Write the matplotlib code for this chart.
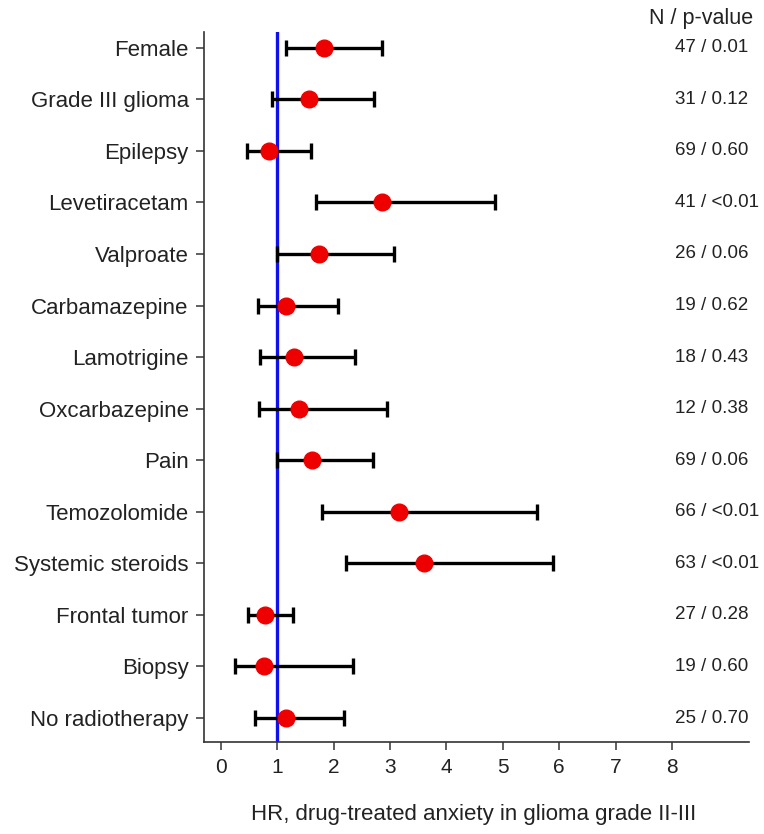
import numpy as np
import matplotlib
matplotlib.use('Agg')
import matplotlib.pyplot as plt

plt.rcParams['font.family'] = ['Liberation Sans', 'DejaVu Sans']

# ---- data ----
labels = ['Female', 'Grade III glioma', 'Epilepsy', 'Levetiracetam', 'Valproate',
          'Carbamazepine', 'Lamotrigine', 'Oxcarbazepine', 'Pain', 'Temozolomide',
          'Systemic steroids', 'Frontal tumor', 'Biopsy', 'No radiotherapy']
hr = [1.82, 1.56, 0.85, 2.85, 1.74, 1.15, 1.29, 1.38, 1.61, 3.16, 3.60, 0.79, 0.76, 1.15]
ci_low = [1.16, 0.90, 0.46, 1.68, 1.00, 0.66, 0.69, 0.67, 0.99, 1.79, 2.22, 0.48, 0.25, 0.61]
ci_high = [2.86, 2.71, 1.60, 4.86, 3.07, 2.07, 2.38, 2.94, 2.70, 5.60, 5.89, 1.28, 2.34, 2.18]
n_p = ['47 / 0.01', '31 / 0.12', '69 / 0.60', '41 / <0.01', '26 / 0.06', '19 / 0.62',
       '18 / 0.43', '12 / 0.38', '69 / 0.06', '66 / <0.01', '63 / <0.01', '27 / 0.28',
       '19 / 0.60', '25 / 0.70']

hr = np.array(hr)
ci_low = np.array(ci_low)
ci_high = np.array(ci_high)
ypos = np.arange(1, len(labels) + 1)

fig = plt.figure(figsize=(7.64, 8.34), dpi=100)
ax = fig.add_axes([0.267, 0.110, 0.713, 0.852])

# reference line at HR = 1
ax.axvline(1, color='#1010ee', lw=2.4, zorder=1)

ax.errorbar(hr, ypos, xerr=[hr - ci_low, ci_high - hr], fmt='none',
            ecolor='black', elinewidth=2.4, capsize=5.5, capthick=2.4, zorder=2)
ax.plot(hr, ypos, 'o', color='#ee0000', ms=12, zorder=3)

ax.set_ylim(len(labels) + 0.47, 0.69)
ax.set_xlim(-0.30, 9.36)
ax.set_yticks(ypos)
ax.set_yticklabels(labels, fontsize=16, color='#222222')
ax.set_xticks(range(0, 9))
ax.tick_params(axis='x', labelsize=15, labelcolor='#222222', length=6, width=1.2,
               color='#444444', pad=5)
ax.tick_params(axis='y', length=6, width=1.2, color='#444444', pad=5)

for s in ['top', 'right']:
    ax.spines[s].set_visible(False)
for s in ['left', 'bottom']:
    ax.spines[s].set_color('#333333')
    ax.spines[s].set_linewidth(1.2)

# N / p-value column
for y, t in zip(ypos, n_p):
    ax.text(8.05, y, t, fontsize=13.5, va='center', ha='left', color='#222222', clip_on=False)
fig.text(0.986, 0.978, 'N / p-value', fontsize=15.5, va='center', ha='right', color='#222222')

fig.text(0.620, 0.023, 'HR, drug-treated anxiety in glioma grade II-III', fontsize=16,
         ha='center', va='center', color='#222222')

fig.savefig('out.png', dpi=100)
